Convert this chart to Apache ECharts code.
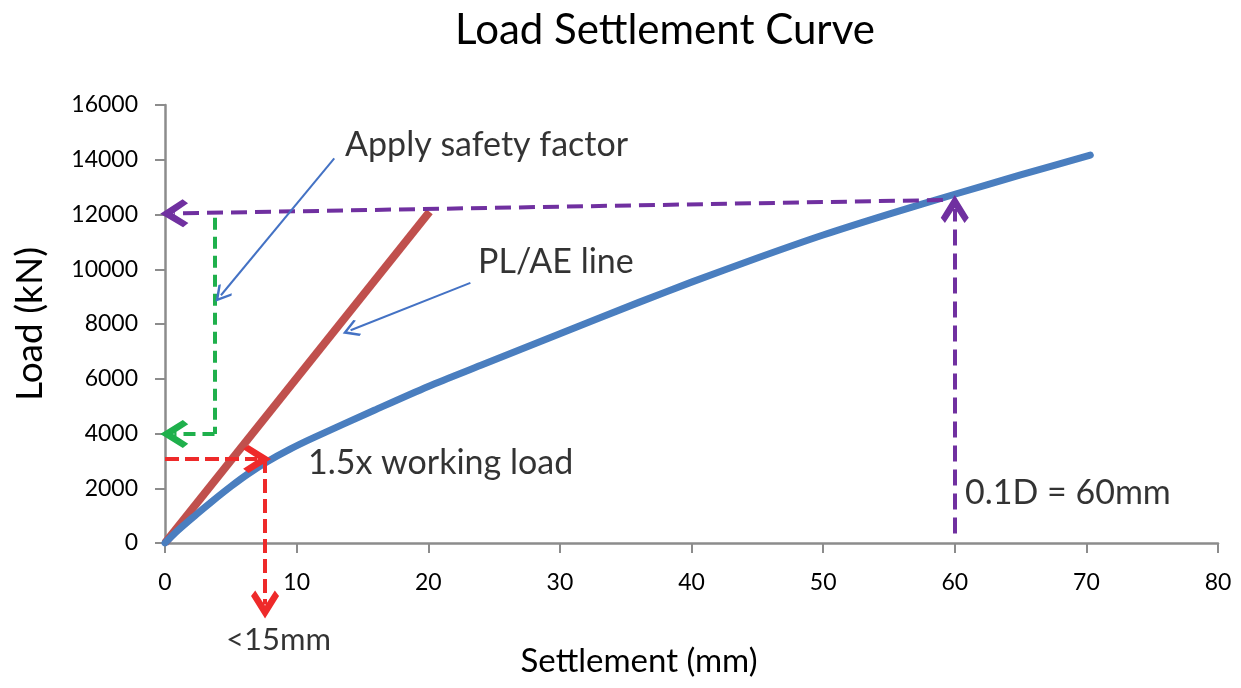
<!DOCTYPE html>
<html>
<head>
<meta charset="utf-8">
<script src="https://cdn.jsdelivr.net/npm/echarts@6/dist/echarts.min.js"></script>
<style>
html,body{margin:0;padding:0;background:#fff;}
#chart{width:1241px;height:688px;}
</style>
</head>
<body>
<div id="chart"></div>
<script>
// ---- data ----
var settlement = [0, 1, 2.35, 3.5, 5.05, 6.3, 7.76, 9.5, 11.3, 15.9, 20, 24, 30, 36, 40, 45, 50, 55, 60, 65, 70.3];
var load       = [0, 470, 1030, 1490, 2080, 2520, 2970, 3430, 3850, 4850, 5720, 6490, 7640, 8790, 9530, 10410, 11250, 12015, 12740, 13445, 14170];
var plaeX = [0, 20.1];
var plaeY = [0, 12100];
var xTicks = [0, 10, 20, 30, 40, 50, 60, 70, 80];
var yTicks = [0, 2000, 4000, 6000, 8000, 10000, 12000, 14000, 16000];
// guide lines: [from, to]
var purpleArrows = [[[59.1, 12530], [0.7, 12040]], [[60, 350], [60, 12200]]];
var greenDrop = [[[3.76, 11880], [3.76, 3980]]];
var greenArrow = [[[3.76, 3980], [0.7, 3980]]];
var redArrows = [[[0, 3070], [7.0, 3070]], [[7.6, 3070], [7.6, -2250]]];
var callouts = [[[12.86, 14050], [4.25, 9050]], [[23.2, 9500], [14.1, 7770]]];
var notes = [
  {text: 'Apply safety factor', x: 13.68, y: 14540, size: 34},
  {text: 'PL/AE line', x: 23.78, y: 10265, size: 34},
  {text: '1.5x working load', x: 10.86, y: 2920, size: 34},
  {text: '0.1D = 60mm', x: 60.78, y: 1826, size: 34},
  {text: '<15mm', x: 4.63, y: -3543, size: 31}
];

var chevron = 'path://M10,0 L20,10.5 L17,13 L10,6 L3,13 L0,10.5 Z';
var chevronThin = 'path://M10,0 L20,12 L18.3,13.8 L10,4 L1.7,13.8 L0,12 Z';

function pairs(xs, ys){ return xs.map(function(v,i){ return [v, ys[i]]; }); }
function coordsOf(list){ return list.map(function(c){ return {coords: c}; }); }

function guide(list, color, dash, arrow, size){
  return {
    type: 'lines', coordinateSystem: 'cartesian2d', clip: false, z: 5,
    data: coordsOf(list),
    symbol: ['none', arrow ? chevron : 'none'], symbolSize: size || 20,
    lineStyle: {color: color, width: 4, type: dash, opacity: 1},
    itemStyle: {color: color}
  };
}

var chart = echarts.init(document.getElementById('chart'));
var font = 'Lato, "Open Sans", sans-serif';
var option = {
  animation: false,
  title: [{
    text: 'Load Settlement Curve',
    left: 660, top: 4, textAlign: 'center',
    textStyle: {fontFamily: font, fontSize: 42, fontWeight: 'normal', color: '#000'}
  }, {
    text: 'Settlement (mm)',
    left: 634, top: 640, textAlign: 'center',
    textStyle: {fontFamily: font, fontSize: 33, fontWeight: 'normal', color: '#000'}
  }],
  grid: {left: 165, right: 23, top: 105, bottom: 145},
  xAxis: {
    type: 'value', min: 0, max: 80, interval: 10,
    axisLine: {show: true, lineStyle: {color: '#8c8c8c', width: 2.5}},
    axisTick: {show: true, length: 10, lineStyle: {color: '#8c8c8c', width: 2}},
    axisLabel: {fontFamily: font, fontSize: 23, color: '#000', margin: 28},
    splitLine: {show: false}
  },
  yAxis: {
    type: 'value', min: 0, max: 16000, interval: 2000,
    name: 'Load (kN)', nameLocation: 'middle', nameGap: 116,
    nameTextStyle: {fontFamily: font, fontSize: 37, color: '#000'},
    axisLine: {show: true, lineStyle: {color: '#8c8c8c', width: 2.5}},
    axisTick: {show: true, length: 10, lineStyle: {color: '#8c8c8c', width: 2}},
    axisLabel: {fontFamily: font, fontSize: 23, color: '#000', margin: 27,
      formatter: function(v){ return String(v); }},
    splitLine: {show: false}
  },
  series: [
    {
      type: 'line', name: 'PL/AE', data: pairs(plaeX, plaeY), showSymbol: false,
      lineStyle: {color: '#C0504D', width: 8, cap: 'butt'}, z: 3
    },
    {
      type: 'line', name: 'Load', data: pairs(settlement, load), showSymbol: false, smooth: 0.3,
      lineStyle: {color: '#4A7EBF', width: 7, cap: 'round', join: 'round'}, z: 4
    },
    guide(purpleArrows, '#7030A0', [16, 8], true, 28),
    guide(greenDrop, '#1FB04C', [12, 7], false),
    guide(greenArrow, '#1FB04C', [12, 7], true, 28),
    guide(redArrows, '#EE2A2A', [14, 6], true, 28),
    {
      type: 'lines', coordinateSystem: 'cartesian2d', clip: false, z: 6,
      data: coordsOf(callouts),
      symbol: ['none', chevronThin], symbolSize: 17,
      lineStyle: {color: '#4472C4', width: 2, opacity: 1},
      itemStyle: {color: '#4472C4'}
    },
    {
      type: 'scatter', clip: false, symbolSize: 0, z: 7,
      data: notes.map(function(n){
        return {value: [n.x, n.y], name: n.text, label: {fontSize: n.size}};
      }),
      label: {
        show: true, position: 'right', distance: 0,
        formatter: function(p){ return p.name; },
        fontFamily: font, fontSize: 34, color: '#000'
      }
    }
  ]
};
chart.setOption(option);
</script>
</body>
</html>
